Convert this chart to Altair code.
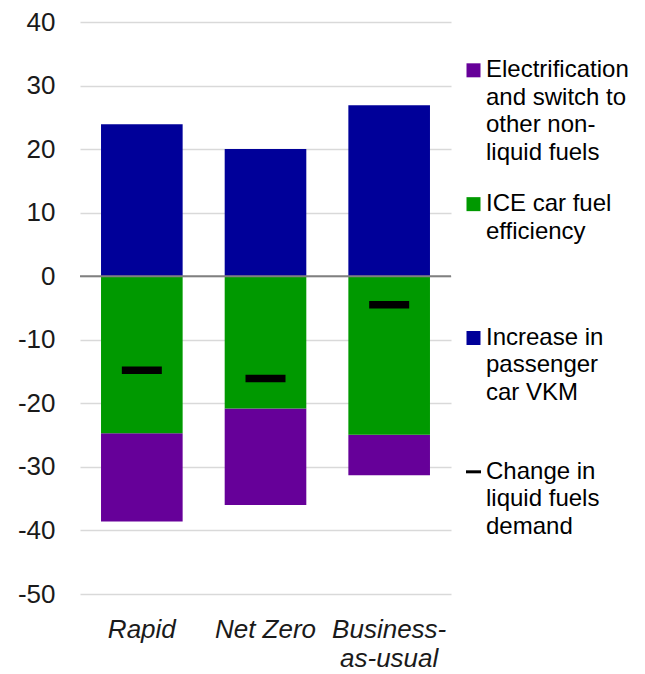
import altair as alt
import pandas as pd

# ---------------- data ----------------
scenarios = ["Rapid", "Net Zero", "Business-as-usual"]
vkm_increase = [23.9, 20.0, 26.9]
ice_efficiency = [-24.7, -20.8, -24.95]
electrification = [-13.9, -15.2, -6.35]
liquid_change = [-14.8, -16.1, -4.5]

series = [
    "Electrification and switch to other non-liquid fuels",
    "ICE car fuel efficiency",
    "Increase in passenger car VKM",
]
series_colors = ["#660099", "#009900", "#000099"]
stack_order = [2, 1, 0]
change_name = "Change in liquid fuels demand"

legend_lines = [
    ["Electrification", "and switch to", "other non-", "liquid fuels"],
    ["ICE car fuel", "efficiency"],
    ["Increase in", "passenger", "car VKM"],
    ["Change in", "liquid fuels", "demand"],
]
y_ticks = [-50, -40, -30, -20, -10, 0, 10, 20, 30, 40]

# ---------------- tables ----------------
rows = []
for i, s in enumerate(scenarios):
    for name, vals, o in zip(series, [electrification, ice_efficiency, vkm_increase], stack_order):
        rows.append({"scenario": s, "series": name, "value": vals[i], "order": o})
bars_df = pd.DataFrame(rows)
change_df = pd.DataFrame({"scenario": scenarios, "change": liquid_change})
zero_df = pd.DataFrame({"y": [0]})

LINE_STEP = 0.205
leg_text = []
for e, lines in enumerate(legend_lines):
    for j, t in enumerate(lines):
        leg_text.append({"pos": e + j * LINE_STEP, "text": t})
leg_text_df = pd.DataFrame(leg_text)
leg_sq_df = pd.DataFrame({"pos": [0, 1, 2], "series": series})
leg_dash_df = pd.DataFrame({"pos": [3], "series": [change_name]})

W, H = 371, 572
FONT = "Liberation Sans"
TXT = "#1a1a1a"

color_scale = alt.Scale(domain=series, range=series_colors)

x_enc = alt.X(
    "scenario:N",
    sort=scenarios,
    scale=alt.Scale(paddingInner=0.34, paddingOuter=0.17),
    axis=alt.Axis(
        title=None, labelAngle=0, labelFontSize=26, labelFontStyle="italic",
        labelColor=TXT, labelPadding=22, labelLineHeight=29, domain=False,
        ticks=False, grid=False, labelFont=FONT,
        labelExpr="datum.label == 'Business-as-usual' ? ['Business-', 'as-usual'] : datum.label",
    ),
)
y_scale = alt.Scale(domain=[-50, 40], nice=False, zero=False)
y_axis = alt.Axis(
    title=None, values=y_ticks, labelFontSize=26, labelColor=TXT, labelPadding=25,
    domain=False, ticks=False, tickSize=0, grid=True, gridColor="#d9d9d9",
    gridWidth=1.5, labelFont=FONT, labelExpr="'' + datum.value",
)

bars = alt.Chart(bars_df).mark_bar().encode(
    x=x_enc,
    y=alt.Y("value:Q", scale=y_scale, axis=y_axis, stack="zero"),
    color=alt.Color("series:N", scale=color_scale, legend=None),
    order=alt.Order("order:Q"),
)
zero_rule = alt.Chart(zero_df).mark_rule(color="#808080", strokeWidth=2).encode(
    y=alt.Y("y:Q", scale=y_scale)
)
ticks = alt.Chart(change_df).mark_tick(color="black", size=40, thickness=7.5, opacity=1).encode(
    x=alt.X("scenario:N", sort=scenarios),
    y=alt.Y("change:Q", scale=y_scale),
)
main = alt.layer(bars, zero_rule, ticks).properties(
    width=W, height=H, view=alt.ViewBackground(stroke="transparent", strokeWidth=0)
)

# ---------------- legend panel ----------------
leg_scale = alt.Scale(domain=[-0.361, 3.913], reverse=True, nice=False, zero=False)
leg_sq = alt.Chart(leg_sq_df).mark_square(size=196, opacity=1).encode(
    x=alt.value(13.5),
    y=alt.Y("pos:Q", scale=leg_scale, axis=None),
    color=alt.Color("series:N", scale=color_scale, legend=None),
)
leg_dash = alt.Chart(leg_dash_df).mark_rule(color="black", strokeWidth=3).encode(
    x=alt.value(6), x2=alt.value(21),
    y=alt.Y("pos:Q", scale=leg_scale, axis=None),
)
leg_txt = alt.Chart(leg_text_df).mark_text(
    align="left", baseline="middle", fontSize=24, font=FONT, color="black"
).encode(
    x=alt.value(26),
    y=alt.Y("pos:Q", scale=leg_scale, axis=None),
    text="text:N",
)
legend = alt.layer(leg_sq, leg_dash, leg_txt).properties(
    width=160, height=H, view=alt.ViewBackground(stroke="transparent", strokeWidth=0)
)

chart = (
    alt.hconcat(main, legend, spacing=8)
    .properties(padding={"left": 9, "top": 1, "right": 0, "bottom": 0})
    .configure(font=FONT)
    .configure_view(strokeWidth=0, stroke="transparent")
)
chart.save("out.html", embed_options={"renderer": "svg", "actions": False})
